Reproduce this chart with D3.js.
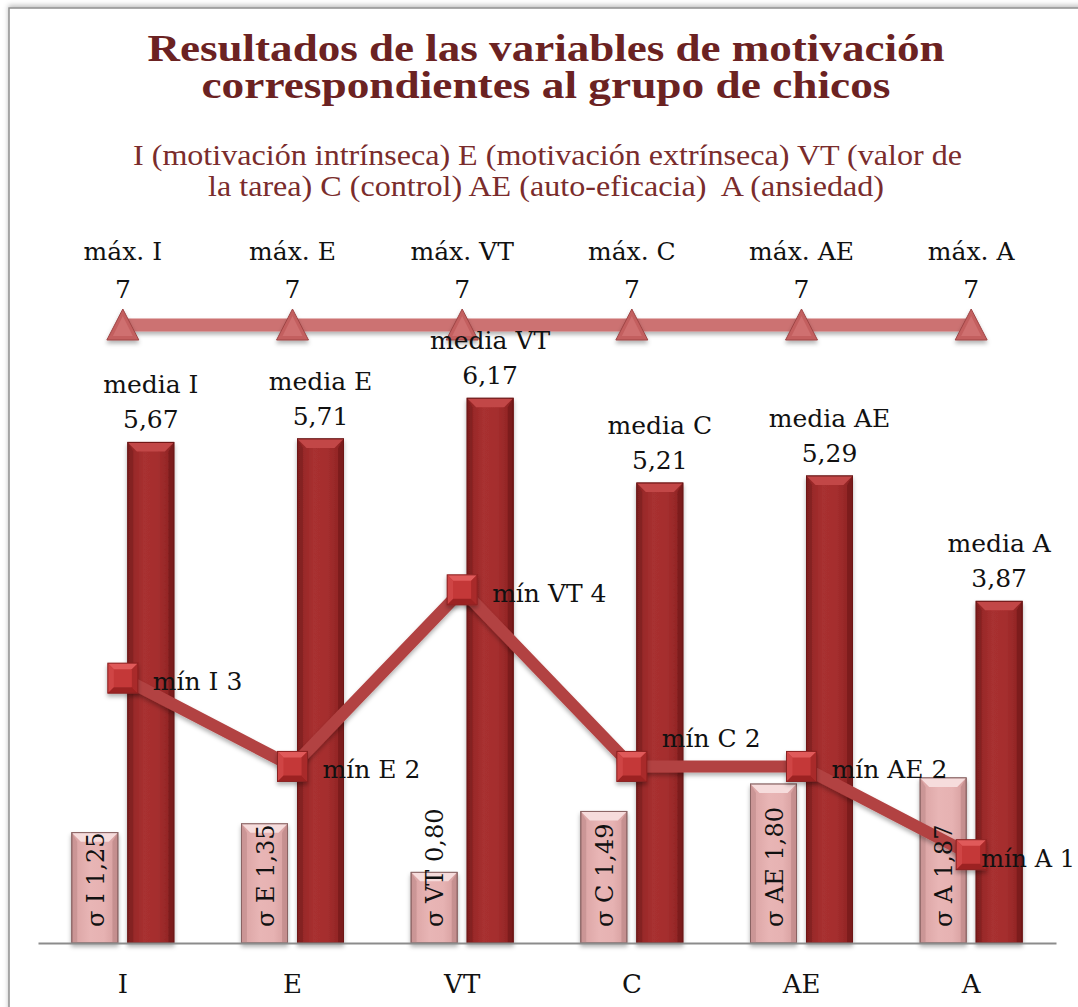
<!DOCTYPE html>
<html>
<head>
<meta charset="utf-8">
<script src="https://cdn.jsdelivr.net/npm/d3@7"></script>
<style>
  html, body { margin: 0; padding: 0; background: #fff; }
  svg { display: block; }
</style>
</head>
<body>
<svg id="chart" width="1078" height="1007"></svg>
<script>
// ---------- DATA ----------
const categories = ["I", "E", "VT", "C", "AE", "A"];
const mediaValues = [5.67, 5.71, 6.17, 5.21, 5.29, 3.87];
const sigmaValues = [1.25, 1.35, 0.80, 1.49, 1.80, 1.87];
const minValues = [3, 2, 4, 2, 2, 1];
const maxValues = [7, 7, 7, 7, 7, 7];
const titleLines = ["Resultados de las variables de motivación", "correspondientes al grupo de chicos"];
const subtitleLines = ["I (motivación intrínseca) E (motivación extrínseca) VT (valor de", "la tarea) C (control) AE (auto-eficacia)  A (ansiedad)"];

// ---------- SETUP ----------
const svg = d3.select("#chart");
const W = 1078, H = 1007;
const fmt = v => d3.format(".2f")(v).replace(".", ",");
const labelFont = "'DejaVu Serif', Georgia, serif";

const x = d3.scaleBand().domain(categories).range([38, 1056]).padding(0);
const y = d3.scaleLinear().domain([0, 7]).range([943, 325]);
const cx = c => x(c) + x.bandwidth() / 2;

const defs = svg.append("defs");
function shadowFilter(id, dy, sd, op) {
  const f = defs.append("filter").attr("id", id).attr("filterUnits", "userSpaceOnUse")
    .attr("x", -20).attr("y", -20).attr("width", W + 40).attr("height", H + 40);
  f.append("feDropShadow").attr("dx", 0).attr("dy", dy).attr("stdDeviation", sd).attr("flood-color", "#000").attr("flood-opacity", op);
}
shadowFilter("shadow", 3, 2, 0.3);
shadowFilter("frameShadow", -2, 2.5, 0.25);

function hGrad(id, stops) {
  const g = defs.append("linearGradient").attr("id", id).attr("x1", 0).attr("x2", 1).attr("y1", 0).attr("y2", 0);
  stops.forEach(([o, c]) => g.append("stop").attr("offset", o).attr("stop-color", c));
}
hGrad("mediaFace", [[0, "#8e2424"], [0.35, "#a83030"], [0.65, "#a52e2e"], [1, "#8a2222"]]);
hGrad("sigmaFace", [[0, "#d9a2a2"], [0.4, "#e8b5b5"], [0.7, "#e6b2b2"], [1, "#d49c9c"]]);

// frame
svg.append("rect").attr("x", 9).attr("y", 8).attr("width", 1200).attr("height", 1200)
  .attr("fill", "#fff").attr("stroke", "#8f8f8f").attr("stroke-width", 1.5).attr("filter", "url(#frameShadow)");

// ---------- TITLES ----------
const titleY = [61, 98];
titleLines.forEach((t, i) => {
  svg.append("text").attr("x", W / 2 + 7).attr("y", titleY[i]).attr("text-anchor", "middle")
    .attr("font-family", "'Liberation Serif', 'Times New Roman', serif").attr("font-weight", "bold")
    .attr("font-size", 37).attr("fill", "#6b2222")
    .attr("textLength", i === 0 ? 797 : 689).attr("lengthAdjust", "spacingAndGlyphs").text(t);
});
const subY = [165, 196];
subtitleLines.forEach((t, i) => {
  svg.append("text").attr("x", i === 0 ? 547.5 : 546).attr("y", subY[i]).attr("text-anchor", "middle")
    .attr("font-family", "'Liberation Serif', 'Times New Roman', serif")
    .attr("font-size", 29).attr("fill", "#7a2c2c").style("white-space", "pre")
    .attr("textLength", i === 0 ? 829 : 676).attr("lengthAdjust", "spacingAndGlyphs").text(t);
});

// ---------- BARS ----------
const barW = 46, gap = 5;
function bevelBar(g, bx, by, bw, bh, b, c) {
  g.append("rect").attr("x", bx).attr("y", by).attr("width", bw).attr("height", bh)
    .attr("fill", c.face).attr("stroke", c.stroke).attr("stroke-width", 1);
  const hb = Math.min(b, bh);
  g.append("polygon").attr("points", [[bx, by], [bx + b * 0.6, by + hb], [bx + b * 0.6, by + bh], [bx, by + bh]].join(" ")).attr("fill", c.left).attr("opacity", 0.6);
  g.append("polygon").attr("points", [[bx + bw, by], [bx + bw, by + bh], [bx + bw - b * 0.6, by + bh], [bx + bw - b * 0.6, by + hb]].join(" ")).attr("fill", c.right).attr("opacity", 0.6);
  g.append("polygon").attr("points", [[bx, by], [bx + bw, by], [bx + bw - b, by + hb], [bx + b, by + hb]].join(" ")).attr("fill", c.top);
  g.append("rect").attr("x", bx).attr("y", by).attr("width", bw).attr("height", bh)
    .attr("fill", "none").attr("stroke", c.stroke).attr("stroke-width", 1);
}

const barsG = svg.append("g");
categories.forEach((c, i) => {
  const g1 = barsG.append("g").attr("filter", "url(#shadow)");
  bevelBar(g1, cx(c) + gap, y(mediaValues[i]), barW, y(0) - y(mediaValues[i]), 9,
    { face: "url(#mediaFace)", stroke: "#6e1818", left: "#7a1c1c", right: "#6e1717", top: "#c24646" });
  const g2 = barsG.append("g").attr("filter", "url(#shadow)");
  bevelBar(g2, cx(c) - gap - barW, y(sigmaValues[i]), barW, y(0) - y(sigmaValues[i]), 9,
    { face: "url(#sigmaFace)", stroke: "#8a6464", left: "#c08c8c", right: "#b98484", top: "#f6dcdc" });
});

// ---------- AXIS ----------
const axis = svg.append("g").attr("transform", `translate(0,${y(0)})`)
  .call(d3.axisBottom(x).tickSize(0).tickSizeOuter(0).tickPadding(32));
axis.select(".domain").attr("stroke", "#8c8c8c").attr("stroke-width", 2);
axis.selectAll("text").attr("font-family", labelFont).attr("font-size", 26).attr("fill", "#111");

// ---------- MAX LINE ----------
const lineGen = d3.line().x((d, i) => cx(categories[i])).y(d => y(d));
svg.append("path").datum(maxValues).attr("d", lineGen).attr("fill", "none")
  .attr("stroke", "#cc7272").attr("stroke-width", 13).attr("filter", "url(#shadow)");
maxValues.forEach((v, i) => {
  const px = cx(categories[i]), py = y(v);
  const g = svg.append("g").attr("filter", "url(#shadow)");
  g.append("polygon").attr("points", [[px, py - 16], [px + 16, py + 15], [px - 16, py + 15]].join(" "))
    .attr("fill", "#c35f5f").attr("stroke", "#9e4545").attr("stroke-width", 1);
  g.append("polygon").attr("points", [[px, py - 9], [px + 10, py + 11], [px - 10, py + 11]].join(" "))
    .attr("fill", "#cf6f6f");
});

// ---------- MIN LINE ----------
svg.append("path").datum(minValues).attr("d", lineGen).attr("fill", "none")
  .attr("stroke", "#b24343").attr("stroke-width", 12).attr("stroke-linejoin", "miter").attr("filter", "url(#shadow)");
minValues.forEach((v, i) => {
  const px = cx(categories[i]), py = y(v), s = 15, b = 6;
  const g = svg.append("g").attr("filter", "url(#shadow)");
  const x0 = px - s, x1 = px + s, y0 = py - s, y1 = py + s;
  g.append("rect").attr("x", x0).attr("y", y0).attr("width", 2 * s).attr("height", 2 * s).attr("fill", "#c43838");
  g.append("polygon").attr("points", [[x0, y0], [x1, y0], [x1 - b, y0 + b], [x0 + b, y0 + b]].join(" ")).attr("fill", "#e05a5a");
  g.append("polygon").attr("points", [[x0, y0], [x0 + b, y0 + b], [x0 + b, y1 - b], [x0, y1]].join(" ")).attr("fill", "#cf4545");
  g.append("polygon").attr("points", [[x1, y0], [x1, y1], [x1 - b, y1 - b], [x1 - b, y0 + b]].join(" ")).attr("fill", "#a92a2a");
  g.append("polygon").attr("points", [[x0, y1], [x1, y1], [x1 - b, y1 - b], [x0 + b, y1 - b]].join(" ")).attr("fill", "#9c2424");
  g.append("rect").attr("x", x0).attr("y", y0).attr("width", 2 * s).attr("height", 2 * s).attr("fill", "none").attr("stroke", "#8a2020").attr("stroke-width", 1);
});

// ---------- LABELS ----------
const lbl = svg.append("g").attr("font-family", labelFont).attr("font-size", 25).attr("fill", "#111");
categories.forEach((c, i) => {
  const px = cx(c);
  lbl.append("text").attr("x", px).attr("y", y(maxValues[i]) - 65).attr("text-anchor", "middle").text("máx. " + c);
  lbl.append("text").attr("x", px).attr("y", y(maxValues[i]) - 27).attr("text-anchor", "middle").text(String(maxValues[i]));
  const mx = px + gap + barW / 2;
  lbl.append("text").attr("x", mx).attr("y", y(mediaValues[i]) - 49).attr("text-anchor", "middle").text("media " + c);
  lbl.append("text").attr("x", mx).attr("y", y(mediaValues[i]) - 14).attr("text-anchor", "middle").text(fmt(mediaValues[i]));
  const sx = px - gap - barW / 2;
  lbl.append("text").attr("transform", `translate(${sx + 1},${y(0) - 16}) rotate(-90)`)
    .attr("dominant-baseline", "central").attr("font-size", 24).text("σ " + c + " " + fmt(sigmaValues[i]));
  let dx = 30, dy = 12, fs = 25;
  if (c === "C") dy = -19;
  if (c === "A") { dx = 10; fs = 24; }
  lbl.append("text").attr("x", px + dx).attr("y", y(minValues[i]) + dy).attr("font-size", fs).text("mín " + c + " " + minValues[i]);
});
</script>
</body>
</html>
